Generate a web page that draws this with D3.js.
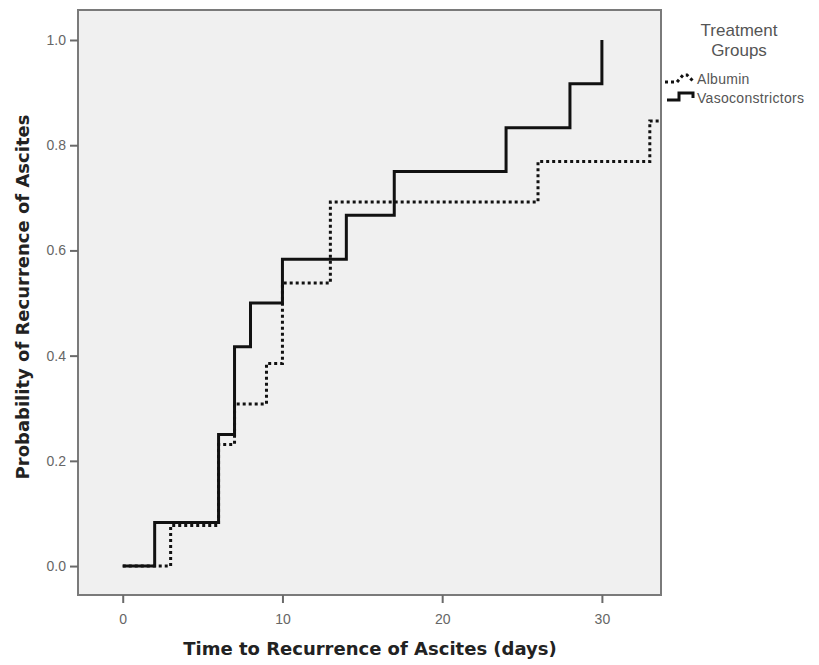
<!DOCTYPE html>
<html>
<head>
<meta charset="utf-8">
<script src="https://cdn.jsdelivr.net/npm/d3@7"></script>
<style>
  body { margin: 0; background: #fff; }
  svg text { font-family: "Liberation Sans", Arial, sans-serif; }
</style>
</head>
<body>
<svg id="chart" width="819" height="665"></svg>
<script>
// step times (days) and cumulative probability after each step
const vasoTimes = [0, 2, 6, 7, 8, 10, 14, 17, 24, 28, 30];
const vasoProb = [0, 0.083, 0.25, 0.417, 0.5, 0.583, 0.667, 0.75, 0.833, 0.917, 1.0];
const albTimes = [0, 3, 6, 7, 9, 10, 13, 26, 33];
const albProb = [0, 0.077, 0.231, 0.308, 0.385, 0.538, 0.692, 0.769, 0.846];
const albEnd = 33.7; // censored tail runs to the frame edge
const vasoEnd = 30;

const xTicks = [0, 10, 20, 30];
const yTicks = [0, 0.2, 0.4, 0.6, 0.8, 1.0];
const groups = ['Albumin', 'Vasoconstrictors'];

const margin = { left: 78, top: 10, right: 158, bottom: 70 };
const width = 819, height = 665;

const svg = d3.select('#chart');

const x = d3.scaleLinear().domain([-2.8, 33.7]).range([margin.left, width - margin.right]);
const y = d3.scaleLinear().domain([-0.055, 1.057]).range([height - margin.bottom, margin.top]);

// plot background and frame
svg.append('rect')
  .attr('x', margin.left).attr('y', margin.top)
  .attr('width', width - margin.right - margin.left)
  .attr('height', height - margin.bottom - margin.top)
  .attr('fill', '#f0f0f0')
  .attr('stroke', '#7a7a7a')
  .attr('stroke-width', 2);

// axes
const xAxis = svg.append('g')
  .attr('transform', 'translate(0,' + (height - margin.bottom) + ')')
  .call(d3.axisBottom(x).tickValues(xTicks).tickSize(8).tickFormat(d3.format('d')));
const yAxis = svg.append('g')
  .attr('transform', 'translate(' + margin.left + ',0)')
  .call(d3.axisLeft(y).tickValues(yTicks).tickSize(8).tickFormat(d3.format('.1f')));

[xAxis, yAxis].forEach(ax => {
  ax.select('.domain').remove();
  ax.selectAll('.tick line').attr('stroke', '#6a6a6a').attr('stroke-width', 2);
  ax.selectAll('.tick text')
    .attr('fill', '#666')
    .style('font-size', '14px');
});
xAxis.selectAll('.tick text').attr('dy', '1.25em');
yAxis.selectAll('.tick text').attr('dx', '-1px');

// step lines
function stepPoints (times, probs, end) {
  const pts = times.map((t, i) => [t, probs[i]]);
  pts.push([end, probs[probs.length - 1]]);
  return pts;
}
const line = d3.line()
  .x(d => x(d[0]))
  .y(d => y(d[1]))
  .curve(d3.curveStepAfter);

svg.append('path')
  .datum(stepPoints(albTimes, albProb, albEnd))
  .attr('d', line)
  .attr('fill', 'none')
  .attr('stroke', '#111')
  .attr('stroke-width', 3)
  .attr('stroke-dasharray', '3,3');

svg.append('path')
  .datum(stepPoints(vasoTimes, vasoProb, vasoEnd))
  .attr('d', line)
  .attr('fill', 'none')
  .attr('stroke', '#111')
  .attr('stroke-width', 3);

// axis titles
svg.append('text')
  .attr('x', 370)
  .attr('y', 655)
  .attr('text-anchor', 'middle')
  .attr('fill', '#222')
  .style('font-family', '"DejaVu Sans", sans-serif')
  .style('font-size', '18px')
  .style('font-weight', 'bold')
  .text('Time to Recurrence of Ascites (days)');

svg.append('text')
  .attr('transform', 'translate(29,297) rotate(-90)')
  .attr('text-anchor', 'middle')
  .attr('fill', '#222')
  .style('font-family', '"DejaVu Sans", sans-serif')
  .style('font-size', '18px')
  .style('font-weight', 'bold')
  .text('Probability of Recurrence of Ascites');

// legend
const legend = svg.append('g').attr('transform', 'translate(665,0)');
legend.append('text')
  .attr('x', 74).attr('y', 36)
  .attr('text-anchor', 'middle')
  .attr('fill', '#555')
  .style('font-size', '17px')
  .text('Treatment');
legend.append('text')
  .attr('x', 74).attr('y', 56)
  .attr('text-anchor', 'middle')
  .attr('fill', '#555')
  .style('font-size', '17px')
  .text('Groups');

const icons = ['M0,9H12L18,2H22L28,8', 'M2,8H14V1H28V6'];
groups.forEach((g, i) => {
  const row = legend.append('g').attr('transform', 'translate(0,' + (73 + i * 19) + ')');
  row.append('path')
    .attr('d', icons[i])
    .attr('fill', 'none')
    .attr('stroke', '#111')
    .attr('stroke-width', 3)
    .attr('stroke-dasharray', i === 0 ? '3,3' : null);
  row.append('text')
    .attr('x', 32).attr('y', 11)
    .attr('fill', '#555')
    .style('font-size', '14px')
    .style('letter-spacing', '0.3px')
    .text(g);
});
</script>
</body>
</html>
